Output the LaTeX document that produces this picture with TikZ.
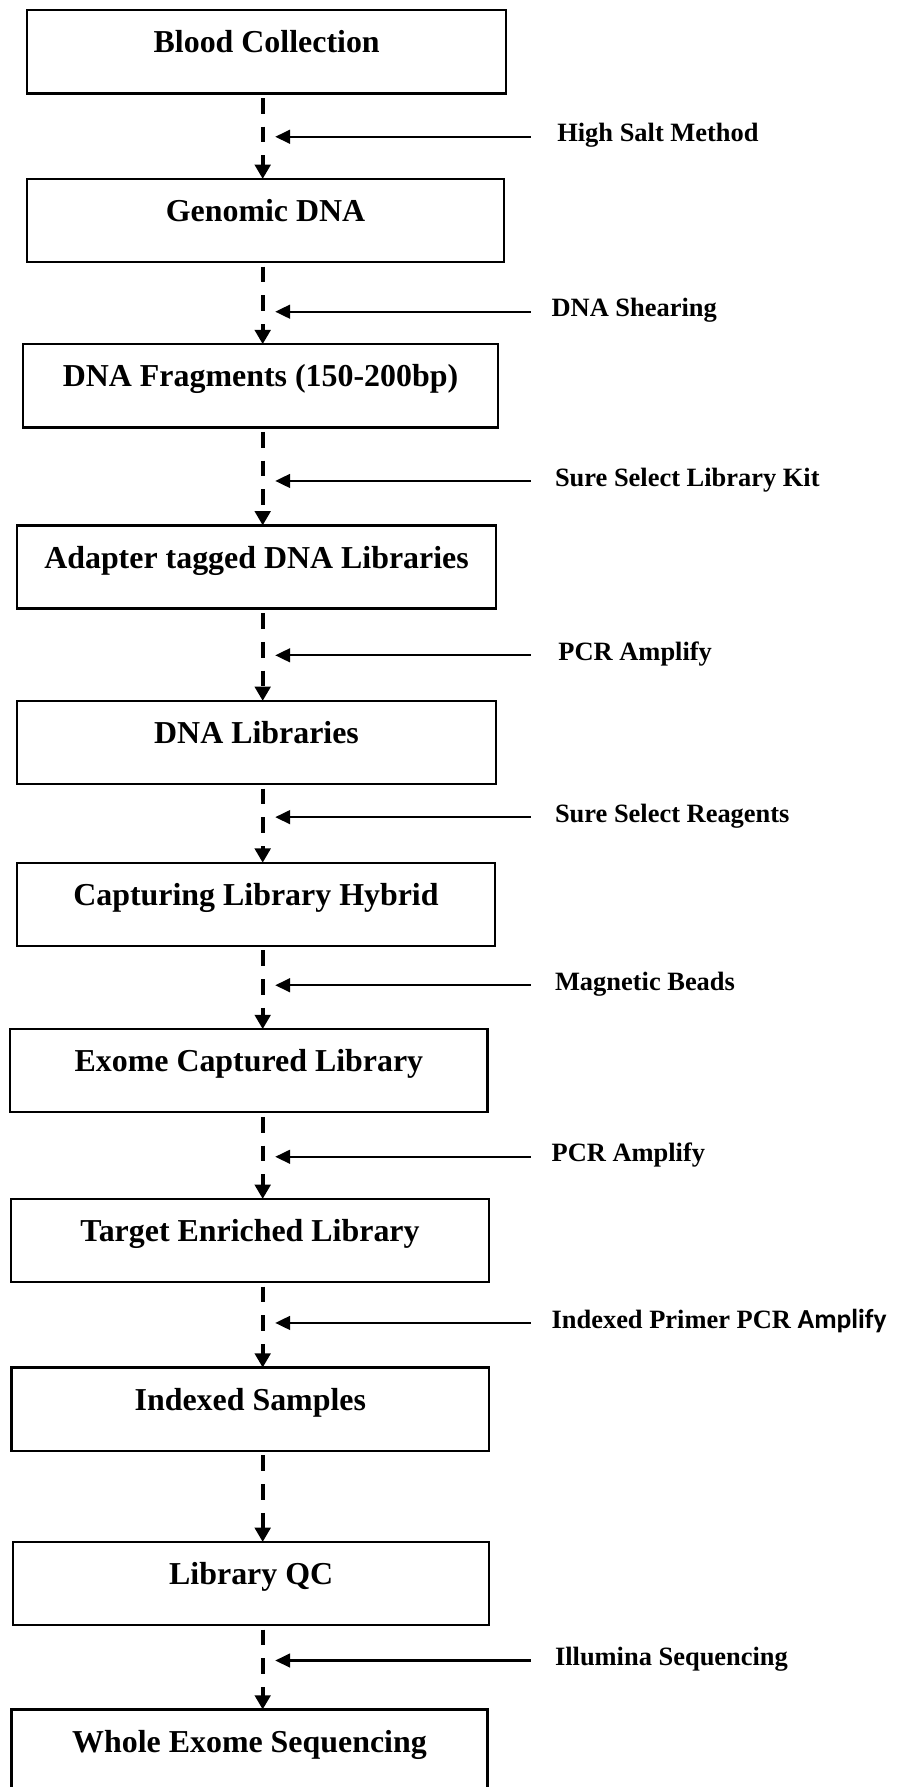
\documentclass[tikz,border=0pt]{standalone}
\usepackage{fontspec}
\setmainfont{Liberation Serif}
\newfontfamily\calibri[Scale=1.04]{Carlito}
\usetikzlibrary{arrows.meta}
\begin{document}
\begin{tikzpicture}[x=1pt, y=-1pt,
  stage/.style={draw, line width=2pt, rectangle, anchor=north west,
    inner sep=0pt, outer sep=0pt, minimum height=73pt,
    text height=37.5pt, text depth=35.5pt,
    font=\bfseries\fontsize{28}{30}\selectfont},
  agent/.style={anchor=west, inner ysep=0pt, inner xsep=#1, outer sep=0pt,
    text height=17pt, text depth=8pt,
    font=\bfseries\fontsize{23.2}{26}\selectfont},
  flow/.style={line width=3.5pt, dash pattern=on 13.8pt off 11.4pt,
    dash phase=21.2pt, -{Triangle[length=12.5pt,width=13.5pt]}},
  feed/.style={line width=2pt, -{Triangle[length=13pt,width=12pt]}}]

\useasboundingbox (0,0) rectangle (789,1568);
\clip (0,0) rectangle (789,1568);

% vertical spine of the workflow and the x where side arrows stop
\coordinate (spine) at (230.5,0);
\coordinate (tip) at (241.5,0);

% workflow stages
\node[stage, minimum width=420.4pt] (b1)  at (23.8,9)    {Blood Collection};
\node[stage, minimum width=418.4pt] (b2)  at (23.8,157)  {Genomic DNA};
\node[stage, minimum width=417.2pt] (b3)  at (20,302)    {DNA Fragments (150-200bp)};
\node[stage, minimum width=420.2pt] (b4)  at (15,461)    {Adapter tagged DNA Libraries};
\node[stage, minimum width=420.2pt] (b5)  at (15,615)    {DNA Libraries};
\node[stage, minimum width=419.2pt] (b6)  at (15,757)    {Capturing Library Hybrid};
\node[stage, minimum width=418.8pt] (b7)  at (9,903)     {Exome Captured Library};
\node[stage, minimum width=419.9pt] (b8)  at (9.4,1052)  {Target Enriched Library};
\node[stage, minimum width=419.3pt] (b9)  at (10,1200)   {Indexed Samples};
\node[stage, minimum width=417.8pt] (b10) at (11.5,1353) {Library QC};
\node[stage, minimum width=417.8pt] (b11) at (10,1500)   {Whole Exome Sequencing};

% dashed flow between stages
\foreach \a/\b in {b1/b2,b2/b3,b3/b4,b4/b5,b5/b6,b6/b7,b7/b8,b8/b9,b9/b10,b10/b11}
  \draw[flow] (\a.south -| spine) -- (\b.north -| spine);

% methods and reagents feeding each step
\node[agent=23.5pt] (l1)  at (465.5,120)    {High Salt Method};
\node[agent=18.5pt] (l2)  at (465.5,273.5)  {DNA Shearing};
\node[agent=21.5pt] (l3)  at (465.5,422)    {Sure Select Library Kit};
\node[agent=24.5pt] (l4)  at (465.5,575)    {PCR Amplify};
\node[agent=21.5pt] (l5)  at (465.5,717)    {Sure Select Reagents};
\node[agent=21.5pt] (l6)  at (465.5,864.5)  {Magnetic Beads};
\node[agent=18.5pt] (l7)  at (465.5,1015)   {PCR Amplify};
\node[agent=18.5pt] (l8)  at (465.5,1160.8) {Indexed Primer PCR {\calibri Amplify}};
\node[agent=21.5pt] (l10) at (465.5,1457)   {Illumina Sequencing};

\foreach \l in {l1,l2,l3,l4,l5,l6,l7,l8,l10}
  \draw[feed] (\l.west) -- (\l.west -| tip);
\end{tikzpicture}
\end{document}
